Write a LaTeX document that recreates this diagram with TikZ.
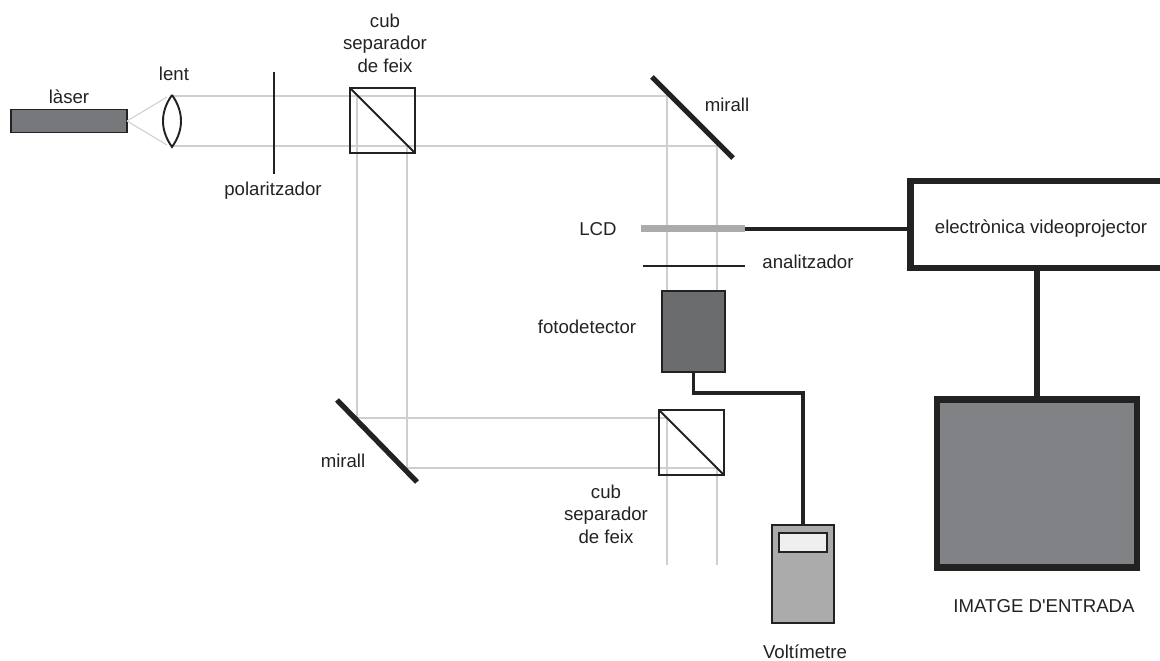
\documentclass[tikz,border=0pt]{standalone}
\usepackage{fontspec}
\setmainfont{Liberation Sans}
\definecolor{grisfosc}{HTML}{6B6C6E}
\definecolor{grislaser}{HTML}{77787B}
\definecolor{grismig}{HTML}{808285}
\definecolor{grisclar}{HTML}{ABABAB}
\definecolor{grisfeix}{HTML}{CFCFCF}
\definecolor{negre}{HTML}{222222}
\definecolor{pantalla}{HTML}{EFEFEF}
\tikzset{
  etiqueta/.style={text=negre, inner sep=0pt, align=center, font=\fontsize{10.6}{12.8}\selectfont},
  feix/.style={grisfeix, line width=0.6pt},
  caixa/.style={draw=negre, inner sep=0pt, outer sep=0pt},
  mirall/.style={negre, line width=3pt},
  cable/.style={negre, line width=2pt}
}
\begin{document}
\begin{tikzpicture}[x=0.02cm,y=-0.02cm]
  \useasboundingbox (0,0) rectangle (1160,661);
  \begin{scope}
    \clip (0,0) rectangle (1160,661);
    % Punts de les lents i dels miralls
    \coordinate (lentA) at (172,95);
    \coordinate (lentB) at (172,147);
    \coordinate (raigA) at (167,97);
    \coordinate (raigB) at (167,145);
    \coordinate (mirallAi) at (652,77);
    \coordinate (mirallAf) at (733,158);
    \coordinate (mirallBi) at (337,400);
    \coordinate (mirallBf) at (417,482);

    % Feixos
    \draw[feix] (172,96) -- (667,96) -- (667,291);
    \draw[feix] (172,146) -- (717,146) -- (717,291);
    \draw[feix] (357,96) -- (357,418) -- (667,418) -- (667,565);
    \draw[feix] (407,146) -- (407,468) -- (717,468) -- (717,565);

    % Laser i lent
    \node[caixa, fill=grislaser, line width=1pt, minimum width=2.32cm, minimum height=0.46cm] (laser) at (69,121) {};
    \draw[feix] (laser.east) -- (raigA);
    \draw[feix] (laser.east) -- (raigB);
    \draw[negre, line width=1.1pt] (lentA) .. controls (160,112) and (160,130) .. (lentB)
      .. controls (184,130) and (184,112) .. (lentA);

    % Polaritzador i analitzador
    \coordinate (polA) at (274,72);
    \coordinate (polB) at (274,174);
    \draw[negre, line width=0.9pt] (polA) -- (polB);
    \coordinate (anaA) at (643,266);
    \coordinate (anaB) at (745,266);
    \draw[negre, line width=0.8pt] (anaA) -- (anaB);

    % Cubs separadors
    \node[caixa, line width=0.9pt, minimum size=1.3cm] (cubA) at (382.5,120.5) {};
    \draw[negre, line width=1.1pt] (cubA.north west) -- (cubA.south east);
    \node[caixa, line width=0.9pt, minimum size=1.3cm] (cubB) at (691.5,442.5) {};
    \draw[negre, line width=1.1pt] (cubB.north west) -- (cubB.south east);

    % Miralls
    \draw[mirall] (mirallAi) -- (mirallAf);
    \draw[mirall] (mirallBi) -- (mirallBf);

    % LCD i electronica
    \node[caixa, fill=grisclar, draw=none, minimum width=2.08cm, minimum height=0.14cm] (lcd) at (693,229) {};
    \node[caixa, line width=3.7pt, fill=white, minimum width=5.26cm, minimum height=1.75cm] (electro) at (1042,224.5) {};
    \draw[cable] (lcd.east) -- (electro.west |- lcd.east);

    % Imatge d'entrada
    \node[caixa, line width=3.7pt, fill=grismig, minimum width=4.01cm, minimum height=3.37cm] (imatge) at (1037,483.5) {};
    \draw[negre, line width=3.4pt] (imatge.north) -- (imatge.north |- electro.south);

    % Fotodetector i voltimetre
    \node[caixa, line width=1.5pt, fill=grisfosc, minimum width=1.26cm, minimum height=1.62cm] (fotodet) at (693.5,331.5) {};
    \node[caixa, line width=1.4pt, fill=grisclar, minimum width=1.24cm, minimum height=1.96cm] (voltimetre) at (803,574) {};
    \node[caixa, line width=1.1pt, fill=pantalla, minimum width=0.96cm, minimum height=0.38cm] (pantalla) at (803,542.5) {};
    \draw[cable] (fotodet.south) -- ++(0,21) -| (voltimetre.north);

    % Etiquetes
    \node[etiqueta] (tlaser) at (69,97) {làser};
    \node[etiqueta] (tlent) at (174,74) {lent};
    \node[etiqueta] (tpol) at (273,191) {polaritzador};
    \node[etiqueta] (tcubA) at (385,43) {cub\\separador\\de feix};
    \node[etiqueta] (tmirallA) at (727,105) {mirall};
    \node[etiqueta] (tlcd) at (598,229) {LCD};
    \node[etiqueta] (tana) at (808,262) {analitzador};
    \node[etiqueta] (tfoto) at (587,327) {fotodetector};
    \node[etiqueta] (tmirallB) at (343,461) {mirall};
    \node[etiqueta] (tcubB) at (606,514) {cub\\separador\\de feix};
    \node[etiqueta] (tvolt) at (805,652) {Voltímetre};
    \node[etiqueta] (telectro) at (1041,229) {electrònica videoprojector};
    \node[etiqueta] (timatge) at (1044,606) {IMATGE D\textquotesingle ENTRADA};
  \end{scope}
\end{tikzpicture}
\end{document}
